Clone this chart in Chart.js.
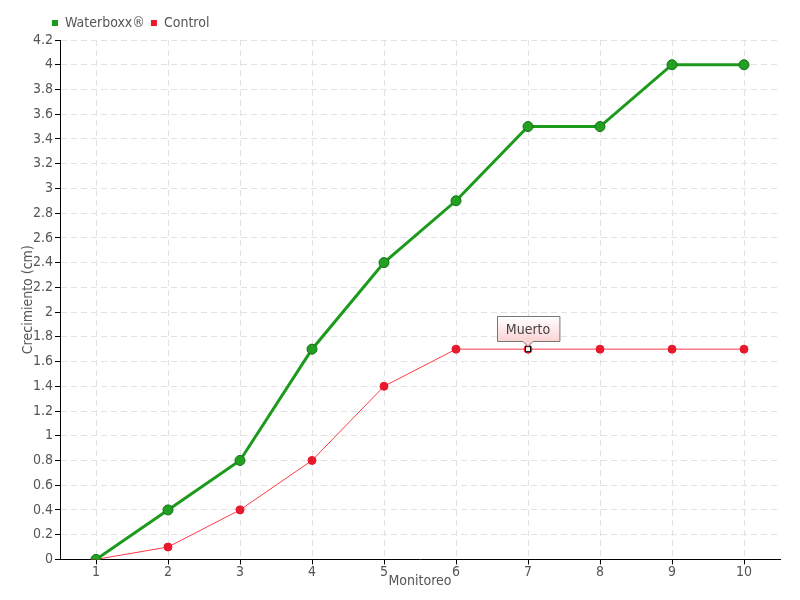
<!DOCTYPE html>
<html>
<head>
<meta charset="utf-8">
<script src="https://cdn.jsdelivr.net/npm/chart.js@4/dist/chart.umd.min.js"></script>
<style>
  body { margin: 0; background: #fff; }
  #wrap { width: 800px; height: 600px; }
</style>
</head>
<body>
<div id="wrap"><canvas id="myChart" width="800" height="600"></canvas></div>
<script>
const monitoreo = ['1', '2', '3', '4', '5', '6', '7', '8', '9', '10'];
const waterboxx = [0, 0.4, 0.8, 1.7, 2.4, 2.9, 3.5, 3.5, 4, 4];
const control = [0, 0.1, 0.4, 0.8, 1.4, 1.7, 1.7, 1.7, 1.7, 1.7];
const muertoIndex = 6;
const muertoText = 'Muerto';

const fontFam = '"DejaVu Sans Condensed", "Liberation Sans Narrow", sans-serif';
Chart.defaults.font.family = fontFam;
Chart.defaults.color = '#555';

// "Muerto" callout over the control point
const muertoLabel = {
    id: 'muertoLabel',
    afterLayout(chart) {
        // push the legend a bit to the right, like the original
        chart.legend.left += 26;
        chart.legend.right += 26;
    },
    afterDatasetsDraw(chart) {
        const meta = chart.getDatasetMeta(1);
        const pt = meta.data[muertoIndex];
        if (!pt) return;
        const ctx = chart.ctx;
        const x = pt.x, y = pt.y;
        ctx.save();
        // marker
        ctx.fillStyle = '#fff';
        ctx.strokeStyle = '#000';
        ctx.lineWidth = 1;
        ctx.fillRect(x - 2.5, y - 2.5, 5, 5);
        ctx.strokeRect(x - 2.5, y - 2.5, 5, 5);
        // box
        ctx.font = '14px ' + fontFam;
        const w = ctx.measureText(muertoText).width + 18;
        const h = 25;
        const bx = Math.round(x - w / 2) + 0.5;
        const by = Math.round(y - 33) + 0.5;
        const g = ctx.createLinearGradient(0, by, 0, by + h);
        g.addColorStop(0, '#ffffff');
        g.addColorStop(1, '#fbd3d3');
        ctx.beginPath();
        ctx.moveTo(bx, by);
        ctx.lineTo(bx + w, by);
        ctx.lineTo(bx + w, by + h);
        ctx.lineTo(x + 5, by + h);
        ctx.lineTo(x, by + h + 5);
        ctx.lineTo(x - 5, by + h);
        ctx.lineTo(bx, by + h);
        ctx.closePath();
        ctx.fillStyle = g;
        ctx.fill();
        ctx.strokeStyle = '#777';
        ctx.stroke();
        ctx.fillStyle = '#444';
        ctx.textAlign = 'center';
        ctx.textBaseline = 'middle';
        ctx.fillText(muertoText, x, by + h / 2 + 1);
        ctx.restore();
    }
};

const ctx = document.getElementById('myChart');

const data = {
    labels: monitoreo,
    datasets: [
        {
            label: 'Waterboxx®',
            data: waterboxx,
            borderColor: '#1c9a1c',
            backgroundColor: '#1c9a1c',
            borderWidth: 3,
            pointRadius: 5,
            pointBackgroundColor: '#22a022',
            pointBorderColor: '#157015',
            pointBorderWidth: 1,
            tension: 0
        },
        {
            label: 'Control',
            data: control,
            borderColor: '#ff3a48',
            backgroundColor: '#e8192c',
            borderWidth: 1,
            pointRadius: 4,
            pointBackgroundColor: '#e8192c',
            pointBorderColor: '#e8192c',
            tension: 0
        }
    ]
};

const config = {
    type: 'line',
    data: data,
    options: {
        responsive: false,
        animation: false,
        layout: { padding: { left: 20, right: 20, top: 10, bottom: 10 } },
        plugins: {
            legend: {
                position: 'top',
                align: 'start',
                labels: {
                    boxWidth: 6,
                    boxHeight: 6,
                    padding: 6,
                    font: { size: 14 },
                    color: '#555',
                    generateLabels: chart => Chart.defaults.plugins.legend.labels
                        .generateLabels(chart).map(l => ({ ...l, lineWidth: 0 }))
                }
            },
            tooltip: { enabled: false }
        },
        scales: {
            x: {
                offset: true,
                grid: {
                    offset: false,
                    color: '#e2e2e2',
                    tickColor: '#000',
                    tickLength: 5,
                    drawTicks: true
                },
                border: { color: '#000', width: 1, dash: [6, 4] },
                ticks: { font: { size: 14 }, color: '#555', padding: 0 },
                title: {
                    display: true,
                    text: 'Monitoreo',
                    font: { size: 14 },
                    color: '#555',
                    padding: { top: -8, bottom: 0 }
                }
            },
            y: {
                min: 0,
                max: 4.2,
                ticks: {
                    stepSize: 0.2,
                    font: { size: 14 },
                    color: '#555',
                    padding: 2,
                    callback: v => String(+v.toFixed(1))
                },
                grid: {
                    color: '#e2e2e2',
                    tickColor: '#000',
                    tickLength: 5
                },
                border: { color: '#000', width: 1, dash: [6, 4] },
                title: {
                    display: true,
                    text: 'Crecimiento (cm)',
                    font: { size: 14 },
                    color: '#555',
                    padding: { top: 0, bottom: 2 }
                },
                afterFit: scale => { scale.width = 40; }
            }
        }
    },
    plugins: [muertoLabel]
};

var chart = new Chart(ctx, config);
</script>
</body>
</html>
